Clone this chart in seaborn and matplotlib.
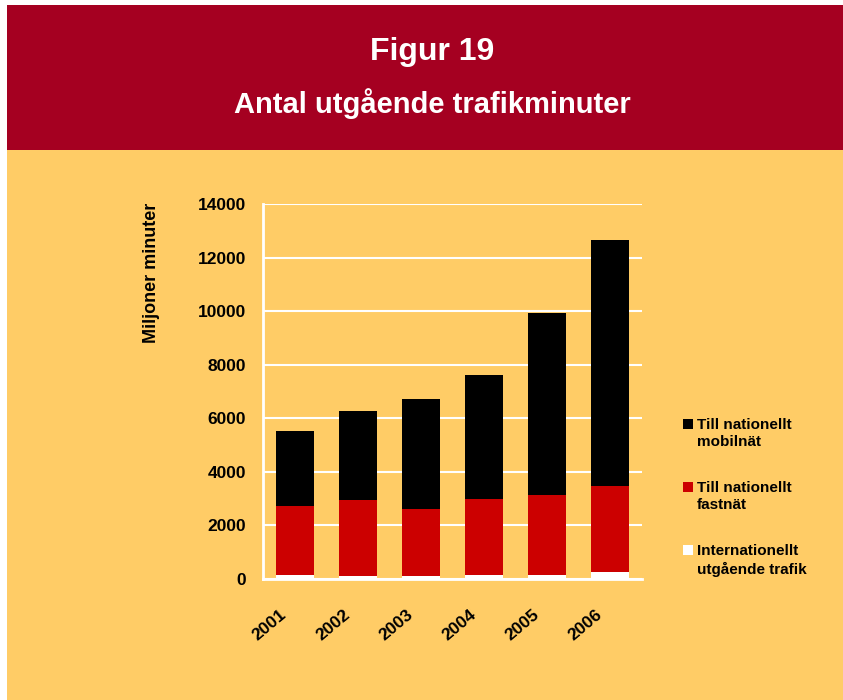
import matplotlib
matplotlib.use("Agg")
import matplotlib.pyplot as plt
import matplotlib.transforms as mtransforms
from matplotlib.patches import Rectangle
import numpy as np
import pandas as pd
import seaborn as sns

# data (miljoner minuter)
years = ["2001", "2002", "2003", "2004", "2005", "2006"]
internationellt = [150, 130, 130, 150, 150, 275]
fastnat = [2590, 2810, 2485, 2826, 2988, 3187]
mobilnat = [2777, 3324, 4110, 4645, 6787, 9203]
series_names = ["Till nationellt\nmobilnät", "Till nationellt\nfastnät",
                "Internationellt\nutgående trafik"]
series_colors = ["#000000", "#CC0000", "#FFFFFF"]
yticks = [0, 2000, 4000, 6000, 8000, 10000, 12000, 14000]

sns.set_theme(style="white")
plt.rcParams['font.family'] = ['Liberation Sans', 'DejaVu Sans']
plt.rcParams['text.color'] = 'black'
plt.rcParams['xtick.color'] = 'black'
plt.rcParams['ytick.color'] = 'black'

df = pd.DataFrame({"year": years, "intl": internationellt,
                   "fast": fastnat, "mobil": mobilnat})
df["c1"] = df["intl"]
df["c2"] = df["intl"] + df["fast"]
df["c3"] = df["c2"] + df["mobil"]

W, H = 843, 700
fig = plt.figure(figsize=(W / 100, H / 100), dpi=100, facecolor="white")

# backgrounds
fig.patches.append(Rectangle((7 / W, 0), 1, 550 / H, transform=fig.transFigure,
                             facecolor="#FFCC66", edgecolor="none", zorder=-2))
fig.patches.append(Rectangle((7 / W, 550 / H), 1, 145 / H, transform=fig.transFigure,
                             facecolor="#A50021", edgecolor="none", zorder=-2))
fig.text(432 / W, 1 - 52 / H, "Figur 19", ha="center", va="center",
         color="white", fontsize=23, fontweight="bold")
fig.text(432 / W, 1 - 104 / H, "Antal utgående trafikminuter", ha="center",
         va="center", color="white", fontsize=21, fontweight="bold")

ax = fig.add_axes([263 / W, 121 / H, 379 / W, 375 / H])
ax.set_facecolor("#FFCC66")

# stacked bars: draw totals first, then lower parts on top
for col, c in zip(["c3", "c2", "c1"], series_colors):
    sns.barplot(data=df, x="year", y=col, color=c, width=0.6, saturation=1,
                linewidth=0, edgecolor="none", ax=ax, zorder=3)

ax.set_xlim(-0.5, 5.5)
ax.set_ylim(0, 14000)
ax.set_yticks(yticks)
ax.set_yticklabels([str(t) for t in yticks], fontsize=12.5, fontweight="bold")
ax.yaxis.grid(True, color="white", linewidth=1.5, zorder=0)
ax.set_axisbelow(True)

# excel-style ticks between categories, labels at centres
ax.set_xticks(np.arange(-0.5, 6, 1))
ax.set_xticklabels([])
ax.set_xticks(np.arange(6), minor=True)
ax.set_xticklabels(years, minor=True, rotation=40, ha="right", va="center",
                   rotation_mode="anchor", fontsize=12.5, fontweight="bold")
ax.tick_params(axis="x", which="minor", length=0, pad=24)
ax.tick_params(axis="both", which="major", direction="out", length=5,
               width=2, color="white")
ax.tick_params(axis="y", which="major", pad=7)
offset = mtransforms.ScaledTranslation(-10 / 100, 0, fig.dpi_scale_trans)
for lab in ax.xaxis.get_minorticklabels():
    lab.set_transform(lab.get_transform() + offset)

for s in ["top", "right"]:
    ax.spines[s].set_visible(False)
for s in ["left", "bottom"]:
    ax.spines[s].set_color("white")
    ax.spines[s].set_linewidth(2)
ax.set_xlabel("")
ax.set_ylabel("")

fig.text(152 / W, 1 - 273 / H, "Miljoner minuter", rotation=90, ha="center",
         va="center", fontsize=13, fontweight="bold")

# legend
leg_y = [424, 487, 550]
for name, col, yy in zip(series_names, series_colors, leg_y):
    fig.patches.append(Rectangle((683 / W, 1 - (yy + 5) / H), 10 / W, 10 / H,
                                 transform=fig.transFigure, facecolor=col,
                                 edgecolor="none"))
    fig.text(697 / W, 1 - (yy - 6) / H, name, ha="left", va="top",
             fontsize=11, fontweight="bold", linespacing=1.3)

fig.savefig("out.png", dpi=100, facecolor=fig.get_facecolor())
